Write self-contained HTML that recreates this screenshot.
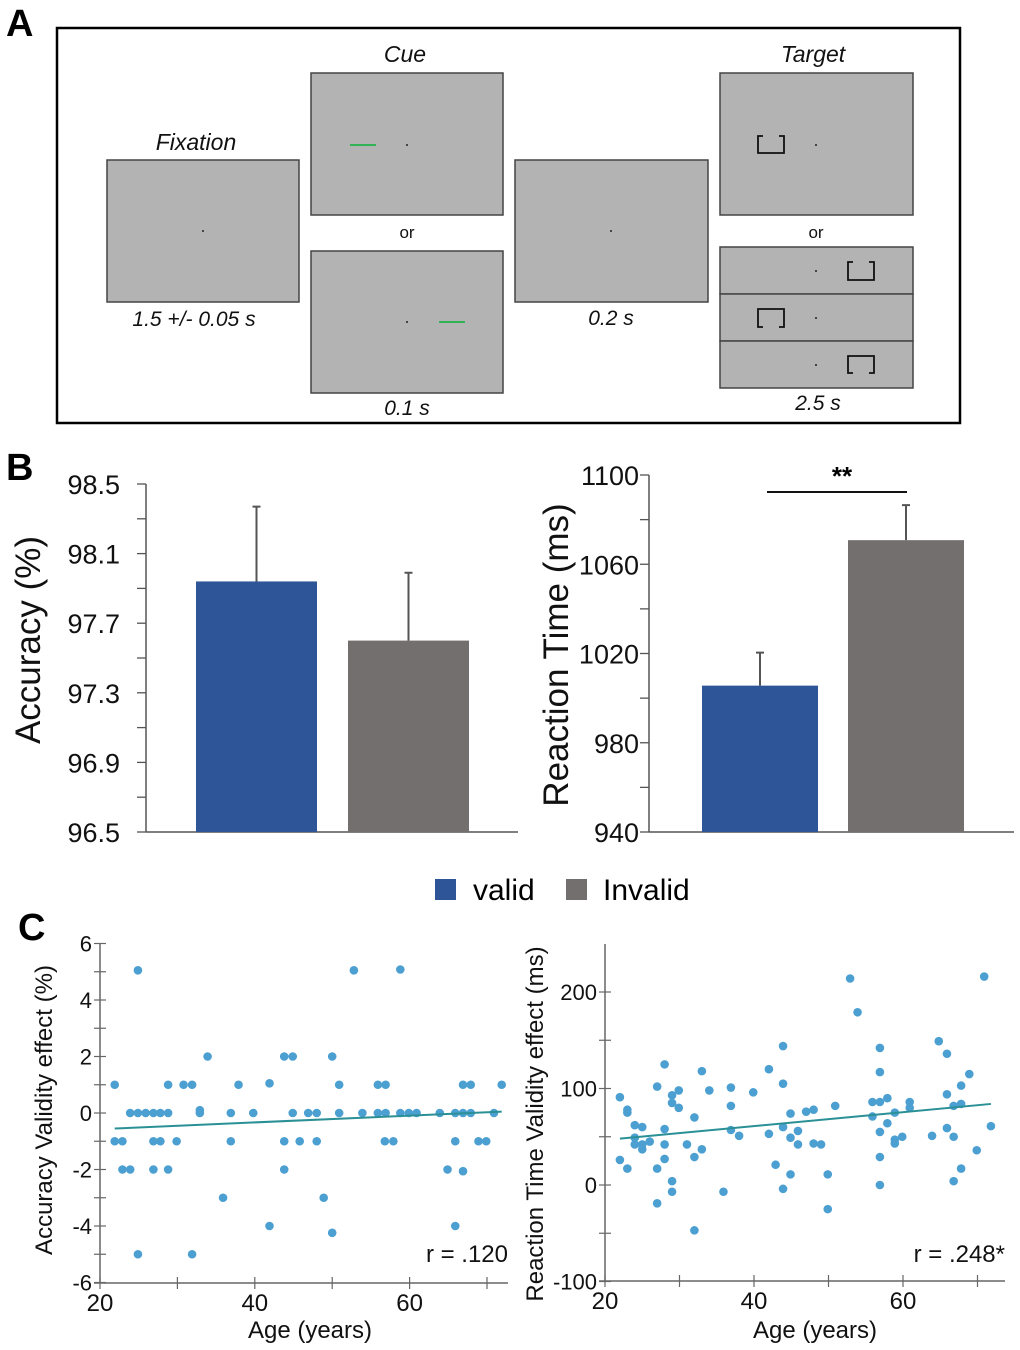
<!DOCTYPE html>
<html><head><meta charset="utf-8"><title>Cue validity figure</title>
<style>
html,body{margin:0;padding:0;background:#fff;}
svg{display:block;font-family:"Liberation Sans",sans-serif;}
</style></head>
<body>
<svg id="fig" width="1020" height="1350" viewBox="0 0 1020 1350" xmlns="http://www.w3.org/2000/svg">
<!-- Panel A -->
<g>
<text x="6" y="36" font-size="38" font-weight="bold">A</text>
<rect x="57" y="28" width="903" height="395" fill="none" stroke="#000" stroke-width="2.5"/>
<g font-style="italic" font-size="23" text-anchor="middle" fill="#111">
<text x="196" y="150">Fixation</text>
<text x="405" y="62">Cue</text>
<text x="813" y="62">Target</text>
<text x="194" y="326" font-size="21">1.5 +/- 0.05 s</text>
<text x="407" y="415" font-size="21">0.1 s</text>
<text x="611" y="325" font-size="21">0.2 s</text>
<text x="818" y="410" font-size="21">2.5 s</text>
</g>
<g font-size="17" text-anchor="middle" fill="#111">
<text x="407" y="238">or</text>
<text x="816" y="238">or</text>
</g>
<g fill="#b3b3b3" stroke="#444" stroke-width="1.5">
<rect x="107" y="160" width="192" height="142"/>
<rect x="311" y="73" width="192" height="142"/>
<rect x="311" y="251" width="192" height="142"/>
<rect x="515" y="160" width="193" height="142"/>
<rect x="720" y="73" width="193" height="142"/>
<rect x="720" y="247" width="193" height="47"/>
<rect x="720" y="294" width="193" height="47"/>
<rect x="720" y="341" width="193" height="47"/>
</g>
<g fill="#222">
<circle cx="203" cy="231" r="1" /><circle cx="407" cy="145" r="1"/><circle cx="407" cy="322" r="1"/>
<circle cx="611" cy="231" r="1"/><circle cx="816" cy="145" r="1"/><circle cx="816" cy="271" r="1"/>
<circle cx="816" cy="318" r="1"/><circle cx="816" cy="365" r="1"/>
</g>
<line x1="350" y1="145" x2="376" y2="145" stroke="#1db34a" stroke-width="1.8"/>
<line x1="439" y1="322" x2="465" y2="322" stroke="#1db34a" stroke-width="1.8"/>
<g fill="none" stroke="#111" stroke-width="1.8">
<path d="M763 136 H758 V153 H784 V136 H779"/>
<path d="M853 262 H848 V280 H874 V262 H869"/>
<path d="M763 327 H758 V309 H784 V327 H779"/>
<path d="M853 373 H848 V356 H874 V373 H869"/>
</g>
</g>
<!-- Panel B -->
<text x="6" y="480" font-size="38" font-weight="bold">B</text>
<g id="barAcc"></g>
<g id="barRT"></g>
<g>
<g><rect x="435" y="879" width="21" height="21" fill="#2e5597"/><text x="473" y="900" font-size="30">valid</text></g>
<g><rect x="566" y="879" width="21" height="21" fill="#736f6e"/><text x="603" y="900" font-size="30">Invalid</text></g>
</g>
<!-- Panel C -->
<text x="18" y="940" font-size="38" font-weight="bold">C</text>
<g id="scAcc"></g>
<g id="scRT"></g>
</svg>
<script>
// ---- Bar chart data ----
const barCats = ["valid", "Invalid"];
const accMeans = [97.94, 97.60];
const accErr = [0.43, 0.39];
const accTicks = [96.5, 96.9, 97.3, 97.7, 98.1, 98.5];
const rtMeans = [1005.6, 1070.8];
const rtErr = [14.8, 15.7];
const rtTicks = [940, 980, 1020, 1060, 1100];
// ---- Scatter data ----
const accAge = [24.9,52.8,58.8,33.9,43.8,44.9,50,21.9,28.8,30.8,31.9,41.9,37.9,50.9,55.9,56.9,66.9,67.9,71.9,32.9,
23.9,24.9,25.9,26.9,27.8,28.8,32.9,36.9,39.8,44.9,46.9,48,50.9,53.9,55.9,56.9,58.8,59.9,60.9,63.9,65.9,66.9,67.9,70.9,
21.9,22.9,26.9,27.8,29.9,36.9,43.8,45.8,48,56.8,57.9,65.9,68.9,69.9,
22.9,23.9,26.9,28.8,43.8,64.9,66.9,35.9,48.9,41.9,65.9,50,24.9,31.9];
const accVal = [5.05,5.05,5.08,2,2,2,2,1,1,1,1,1.05,1,1,1,1,1,1,1,0.1,
0,0,0,0,0,0,0,0,0,0,0,0,0,0,0,0,0,0,0,0,0,0,0,0,
-1,-1,-1,-1,-1,-1,-1,-1,-1,-1,-1,-1,-1,-1,
-2,-2,-2,-2,-2,-2,-2.06,-3,-3,-4,-4,-4.24,-5,-5];
const accTicksY = [-6,-4,-2,0,2,4,6];
const accFitX = [21.9, 71.9];
const accFitY = [-0.55, 0.05];
const rtAge = [52.9,70.9,53.9,64.8,43.9,56.9,65.9,28,42,33,56.9,68.9,43.9,67.8,27,36.9,29.9,34,39.9,22,29,65.9,29,57.9,55.9,56.9,60.9,67.8,66.8,36.9,29.9,50.9,60.9,23,23,48,47,44.9,58.9,32,55.9,57.9,24,25,43.9,28,65.9,71.8,36.9,45.9,56.9,38,42,63.9,59.9,66.8,24,44.9,58.9,26,24,25,28,31,48,49,45.9,58.9,25,33,69.9,56.9,32,28,22,42.9,23,27,67.8,44.9,49.9,29,66.8,56.9,43.9,29,35.9,27,49.9,32];
const rtVal = [214,216,179,149,144,142,136,125,120,118,117,115,105,103,102,101,98,98,96,91,93,94,85,90,86,86,86,84,82,82,80,82,80,78,75,78,76,74,75,70,71,64,62,60,60,58,59,61,57,56,55,51,53,51,50,50,49,49,47,45,42,42,42,42,43,42,42,43,37,37,36,29,29,27,26,21,17,17,17,11,11,4,4,0,-4,-7,-7,-19,-25,-47];
const rtTicksY = [-100,0,100,200];
const rtFitX = [22, 71.8];
const rtFitY = [48, 84];

const NS = "http://www.w3.org/2000/svg";
function mk(parent, tag, attrs, txt){
  const e = document.createElementNS(NS, tag);
  for (const k in attrs) e.setAttribute(k, attrs[k]);
  if (txt !== undefined) e.textContent = txt;
  parent.appendChild(e);
  return e;
}
const colors = ["#2e5597", "#736f6e"];

function barChart(g, cfg){
  const y = v => cfg.y0 - (v - cfg.vmin) / (cfg.vmax - cfg.vmin) * (cfg.y0 - cfg.y1);
  let e = mk(g, "line", {x1:cfg.ax, y1:cfg.y1, x2:cfg.ax, y2:cfg.y0, stroke:"#555", "stroke-width":1.5});
  
  
  e = mk(g, "line", {x1:cfg.ax, y1:cfg.y0, x2:cfg.xend, y2:cfg.y0, stroke:"#555", "stroke-width":1.5});
  
  
  const tk = cfg.ticks;
  const step = (tk[1]-tk[0])/2;
  for (let v = tk[0]; v <= tk[tk.length-1] + 1e-9; v += step){
    e = mk(g, "line", {x1:cfg.ax-9, y1:y(v), x2:cfg.ax, y2:y(v), stroke:"#555", "stroke-width":1.3});
    
    
  }
  tk.forEach(v => {
    const t = mk(g, "text", {x:cfg.lx, y:y(v)+10, "font-size":27, "text-anchor":"end", fill:"#111"}, cfg.fmt(v));
    
    
  });
  cfg.means.forEach((m, i) => {
    const bx = cfg.bx[i];
    const r = mk(g, "rect", {x:bx, y:y(m), width:cfg.bw, height:cfg.y0 - y(m), fill:colors[i]});
    
    
    const cx = bx + cfg.bw/2;
    const eb = mk(g, "path", {d:`M${cx} ${y(m)} V${y(m+cfg.err[i])} M${cx-4} ${y(m+cfg.err[i])} H${cx+4}`, stroke:"#555", "stroke-width":2, fill:"none"});
    
    
  });
  const tt = mk(g, "text", {x:0, y:0, "font-size":35, "text-anchor":"middle", transform:`translate(${cfg.tx},${cfg.ty}) rotate(-90)`, fill:"#111"}, cfg.title);
  
  
}
barChart(document.getElementById("barAcc"), {vmin:96.5, vmax:98.5, y0:832, y1:484, ax:146, lx:120, xend:518, ticks:accTicks, fmt:v=>v.toFixed(1), means:accMeans, err:accErr, bx:[196,348], bw:121, title:"Accuracy (%)", tx:40, ty:640});
barChart(document.getElementById("barRT"), {vmin:940, vmax:1100, y0:832, y1:475, ax:649, lx:639, xend:1014, ticks:rtTicks, fmt:v=>String(v), means:rtMeans, err:rtErr, bx:[702,848], bw:116, title:"Reaction Time (ms)", tx:568, ty:655});
(function(){
  const g = document.getElementById("barRT");
  let e = mk(g, "line", {x1:767, y1:492, x2:907, y2:492, stroke:"#111", "stroke-width":2});
  
  
  e = mk(g, "text", {x:842, y:485, "font-size":26, "font-weight":"bold", "text-anchor":"middle"}, "**");
  
  
})();

function scatter(g, cfg){
  const x = a => cfg.x0 + (a - 20) * cfg.pxYear;
  const y = v => cfg.yZero - v * cfg.pxUnit;
  let e = mk(g, "line", {x1:cfg.ax, y1:cfg.ytop, x2:cfg.ax, y2:cfg.ybot, stroke:"#666", "stroke-width":1.5});
  
  
  e = mk(g, "line", {x1:cfg.ax-6, y1:cfg.ybot, x2:cfg.xend, y2:cfg.ybot, stroke:"#666", "stroke-width":1.5});
  
  
  const yt = cfg.yticks, half = (yt[1]-yt[0])/2;
  for (let v = yt[0]; v <= yt[yt.length-1] + 1e-9; v += half){
    e = mk(g, "line", {x1:cfg.ax-6, y1:y(v), x2:cfg.ax+6, y2:y(v), stroke:"#666", "stroke-width":1.2});
    
    
  }
  yt.forEach(v => {
    const t = mk(g, "text", {x:cfg.ax-8, y:y(v)+8, "font-size":22, "text-anchor":"end", fill:"#111"}, String(v));
    
    
  });
  [20,30,40,50,60,70].forEach(a => {
    const t = mk(g, "line", {x1:x(a), y1:cfg.ybot-6, x2:x(a), y2:cfg.ybot+6, stroke:"#666", "stroke-width":1.2});
    
    
  });
  [20,40,60].forEach(a => {
    const t = mk(g, "text", {x:x(a), y:cfg.ybot+28, "font-size":24, "text-anchor":"middle", fill:"#111"}, String(a));
    
    
  });
  cfg.ages.forEach((a, i) => {
    const c = mk(g, "circle", {cx:x(a), cy:y(cfg.vals[i]), r:4.3, fill:"#4b9fd1"});
    
    
  });
  e = mk(g, "line", {x1:x(cfg.fitX[0]), y1:y(cfg.fitY[0]), x2:x(cfg.fitX[1]), y2:y(cfg.fitY[1]), stroke:"#2a9096", "stroke-width":2});
  
  
  e = mk(g, "text", {x:cfg.xend, y:1262, "font-size":24, "text-anchor":"end", fill:"#111"}, cfg.r);
  
  
  e = mk(g, "text", {x:cfg.xlabelX, y:1338, "font-size":24, "text-anchor":"middle", fill:"#111"}, "Age (years)");
  
  
  e = mk(g, "text", {x:0, y:0, "font-size":24, "text-anchor":"middle", fill:"#111", transform:`translate(${cfg.tx},${cfg.ty}) rotate(-90)`}, cfg.title);
  
  
}
scatter(document.getElementById("scAcc"), {x0:100, pxYear:7.74, yZero:1113, pxUnit:28.25, ax:100, ytop:944, ybot:1283, xend:508, yticks:accTicksY, ages:accAge, vals:accVal, fitX:accFitX, fitY:accFitY, r:"r = .120", xlabelX:310, title:"Accuracy Validity effect (%)", tx:52, ty:1110});
scatter(document.getElementById("scRT"), {x0:605, pxYear:7.45, yZero:1185, pxUnit:0.965, ax:605, ytop:944, ybot:1281, xend:1005, yticks:rtTicksY, ages:rtAge, vals:rtVal, fitX:rtFitX, fitY:rtFitY, r:"r = .248*", xlabelX:815, title:"Reaction Time Validity effect (ms)", tx:543, ty:1124});
</script>
</body></html>
